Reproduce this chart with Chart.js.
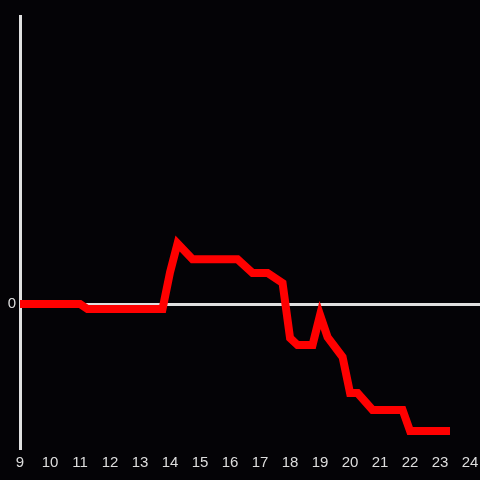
<!DOCTYPE html>
<html>
  <head>
    <meta charset="UTF-8" />
    <script src="https://cdn.jsdelivr.net/npm/chart.js"></script>
    <style>
      html, body { margin: 0; padding: 0; background: #040306; }
      #wrap { width: 480px; height: 480px; }
    </style>
  </head>
  <body>
    <div id="wrap"><canvas id="c"></canvas></div>
    <script>
      // hours of day and values
      const hours = [9, 11, 11.25, 13.75, 14, 14.25, 14.75, 16.25, 16.75, 17.25, 17.75, 18, 18.25, 18.75, 19, 19.25, 19.75, 20, 20.25, 20.75, 21.75, 22, 23.33];
      const values = [0, 0, -0.035, -0.035, 0.22, 0.42, 0.31, 0.31, 0.215, 0.215, 0.146, -0.236, -0.285, -0.285, -0.076, -0.23, -0.368, -0.618, -0.618, -0.736, -0.736, -0.882, -0.882];
      const xTicks = [9, 10, 11, 12, 13, 14, 15, 16, 17, 18, 19, 20, 21, 22, 23, 24];
      const yTicks = [0];

      const points = hours.map((h, i) => ({ x: h, y: values[i] }));

      new Chart(document.getElementById('c'), {
        type: 'line',
        data: {
          datasets: [{
            data: points,
            borderColor: '#ff0000',
            borderWidth: 8,
            pointRadius: 0,
            tension: 0,
            fill: false,
          }],
        },
        options: {
          responsive: true,
          maintainAspectRatio: false,
          animation: false,
          layout: { padding: { top: 16 } },
          plugins: { legend: { display: false }, tooltip: { enabled: false } },
          scales: {
            x: {
              type: 'linear',
              min: 9,
              max: 24.33,
              afterBuildTicks: (s) => { s.ticks = xTicks.map((v) => ({ value: v })); },
              afterFit: (s) => { s.height = 32; s.paddingRight = 0; s.paddingLeft = 0; },
              grid: { display: false },
              border: { display: false },
              ticks: {
                color: '#dddddd',
                font: { family: 'Liberation Sans', size: 15 },
                padding: -2,
                maxRotation: 0,
                autoSkip: false,
              },
            },
            y: {
              min: -1,
              max: 2,
              afterBuildTicks: (s) => { s.ticks = yTicks.map((v) => ({ value: v })); },
              afterFit: (s) => { s.width = 20; s.paddingTop = 0; s.paddingBottom = 0; },
              grid: { color: '#e0e0e0', lineWidth: 3, drawTicks: false },
              border: { display: true, color: '#e0e0e0', width: 3 },
              ticks: {
                color: '#dddddd',
                font: { family: 'Liberation Sans', size: 15 },
                padding: 4,
              },
            },
          },
        },
      });
    </script>
  </body>
</html>
